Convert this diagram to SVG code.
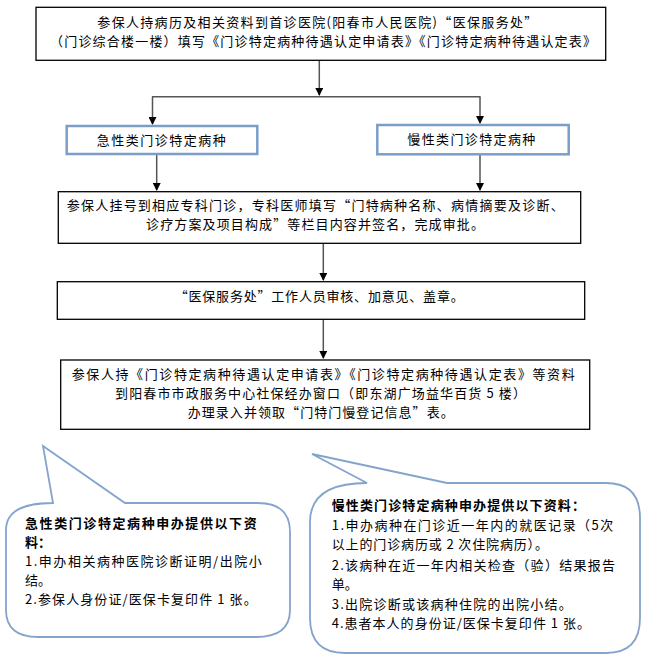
<svg xmlns="http://www.w3.org/2000/svg" width="649" height="659" viewBox="0 0 649 659">
<defs>
<marker id="ah" markerWidth="8" markerHeight="8" refX="7" refY="4" orient="auto" markerUnits="userSpaceOnUse">
<path d="M0,0 L8,4 L0,8 Z" fill="#000"/>
</marker>
<style>
.t{font-family:"Noto Sans CJK SC","Liberation Sans",sans-serif;font-size:13px;fill:#000}
.b{font-weight:bold}
.box{fill:#fff;stroke:#000;stroke-width:1.3}
.blue{fill:#fff;stroke:#7b9ec9;stroke-width:2.5}
.bub{fill:#fff;stroke:#84a4cd;stroke-width:1.8}
.ln{stroke:#555;stroke-width:1.5;fill:none}
.arr{stroke:#555;stroke-width:1.5;fill:none;marker-end:url(#ah)}
</style>
</defs>
<rect width="649" height="659" fill="#fff"/>
<g id="connectors">
<line class="arr" x1="319.3" y1="60.5" x2="319.3" y2="95"/>
<line class="ln" x1="152" y1="96.7" x2="480.5" y2="96.7" stroke="#000"/>
<line class="arr" x1="152.5" y1="96.7" x2="152.5" y2="124"/>
<line class="arr" x1="480" y1="96.7" x2="480" y2="123"/>
<line class="arr" x1="156.7" y1="155" x2="156.7" y2="190"/>
<line class="arr" x1="480" y1="155" x2="480" y2="190"/>
<line class="arr" x1="323.3" y1="243.5" x2="323.3" y2="280"/>
<line class="arr" x1="323.3" y1="319.5" x2="323.3" y2="358"/>
</g>
<g id="n1">
<rect class="box" x="36" y="7.3" width="569.7" height="53"/>
<text class="t" x="97.3" y="27.3" textLength="440" lengthAdjust="spacing">参保人持病历及相关资料到首诊医院(阳春市人民医院)“医保服务处”</text>
<text class="t" x="50" y="46.3" textLength="546" lengthAdjust="spacing">（门诊综合楼一楼）填写《门诊特定病种待遇认定申请表》《门诊特定病种待遇认定表》</text>
</g>
<g id="n2">
<rect class="blue" x="66.7" y="126" width="190.6" height="28"/>
<text class="t" x="96.7" y="144.5" textLength="129" lengthAdjust="spacing">急性类门诊特定病种</text>
</g>
<g id="n3">
<rect class="blue" x="377.3" y="125" width="191.4" height="29.3"/>
<text class="t" x="407.3" y="143.8" textLength="128" lengthAdjust="spacing">慢性类门诊特定病种</text>
</g>
<g id="n4">
<rect class="box" x="58.3" y="191.7" width="522.4" height="51.6"/>
<text class="t" x="66.7" y="209.5" textLength="497" lengthAdjust="spacing">参保人挂号到相应专科门诊，专科医师填写“门特病种名称、病情摘要及诊断、</text>
<text class="t" x="146" y="228.5" textLength="338" lengthAdjust="spacing">诊疗方案及项目构成”等栏目内容并签名，完成审批。</text>
</g>
<g id="n5">
<rect class="box" x="57.3" y="281.7" width="527.4" height="37.6"/>
<text class="t" x="174.7" y="300.8" textLength="289" lengthAdjust="spacing">“医保服务处”工作人员审核、加意见、盖章。</text>
</g>
<g id="n6">
<rect class="box" x="60.7" y="360" width="529" height="69.3"/>
<text class="t" x="71.7" y="379" textLength="503" lengthAdjust="spacing">参保人持《门诊特定病种待遇认定申请表》《门诊特定病种待遇认定表》等资料</text>
<text class="t" x="115" y="398" textLength="411" lengthAdjust="spacing">到阳春市市政服务中心社保经办窗口（即东湖广场益华百货 5 楼）</text>
<text class="t" x="187.7" y="417" textLength="266" lengthAdjust="spacing">办理录入并领取“门特门慢登记信息”表。</text>
</g>
<g id="callout-acute">
<path class="bub" d="M53,503 L43,446 L125,503 L258,503 Q290,503 290,532 L290,610 Q290,637 256,637 L38,637 Q6,637 6,610 L6,530 Q6,503 53,503 Z"/>
<text class="t b" x="25" y="527.5" textLength="231.7" lengthAdjust="spacing">急性类门诊特定病种申办提供以下资</text>
<text class="t b" x="25" y="546.5">料：</text>
<text class="t" x="25" y="565.5" textLength="236.7" lengthAdjust="spacing">1.申办相关病种医院诊断证明/出院小</text>
<text class="t" x="25" y="584.5">结。</text>
<text class="t" x="25" y="603.5" textLength="231.7" lengthAdjust="spacing">2.参保人身份证/医保卡复印件 1 张。</text>
</g>
<g id="callout-chronic">
<path class="bub" d="M367,483 L312,454 L447,483 L606,483 Q640,483 640,518 L640,618 Q640,653 606,653 L345,653 Q310,653 310,618 L310,522 Q310,483 367,483 Z"/>
<text class="t b" x="331.7" y="510" textLength="253.3" lengthAdjust="spacing">慢性类门诊特定病种申办提供以下资料：</text>
<text class="t" x="331.7" y="529.5" textLength="281.6" lengthAdjust="spacing">1.申办病种在门诊近一年内的就医记录（5次</text>
<text class="t" x="331.7" y="548.7" textLength="216.3" lengthAdjust="spacing">以上的门诊病历或 2 次住院病历）。</text>
<text class="t" x="331.7" y="570" textLength="283.3" lengthAdjust="spacing">2.该病种在近一年内相关检查（验）结果报告</text>
<text class="t" x="331.7" y="589.3">单。</text>
<text class="t" x="331.7" y="609" textLength="240" lengthAdjust="spacing">3.出院诊断或该病种住院的出院小结。</text>
<text class="t" x="331.7" y="628.3" textLength="258.3" lengthAdjust="spacing">4.患者本人的身份证/医保卡复印件 1 张。</text>
</g>
</svg>
